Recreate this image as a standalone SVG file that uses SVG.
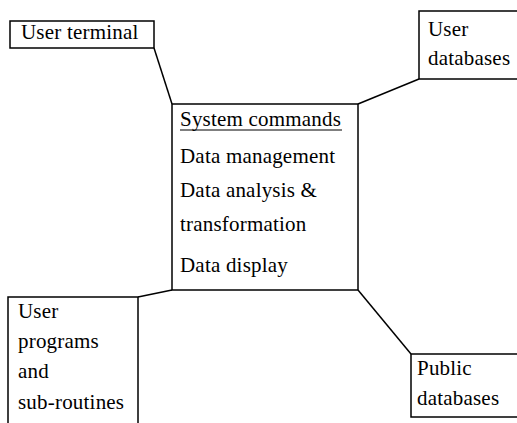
<svg xmlns="http://www.w3.org/2000/svg" width="517" height="423" viewBox="0 0 517 423">
<style>
.box{fill:#fff;stroke:#000;stroke-width:1.5}
.t{font-family:"Liberation Serif","Times New Roman",serif;font-size:21px;fill:#000;letter-spacing:0.2px}
.c{fill:none;stroke:#000;stroke-width:1.5}
</style>
<rect width="517" height="423" fill="#fff"/>
<g id="connectors">
<line class="c" x1="154" y1="48" x2="172" y2="104"/>
<line class="c" x1="358" y1="104" x2="419" y2="79"/>
<line class="c" x1="138" y1="297" x2="172" y2="290"/>
<line class="c" x1="358" y1="290" x2="411" y2="354"/>
</g>
<g id="user-terminal">
<rect class="box" x="10" y="21" width="144" height="27"/>
<text class="t" x="21" y="39">User terminal</text>
</g>
<g id="user-databases">
<rect class="box" x="419" y="11" width="100" height="68"/>
<text class="t" x="428" y="36">User</text>
<text class="t" x="428" y="65">databases</text>
</g>
<g id="system-commands">
<rect class="box" x="172" y="104" width="186" height="186"/>
<text class="t" x="180" y="126">System commands</text>
<line x1="180" y1="130" x2="342" y2="130" stroke="#000" stroke-width="1.2"/>
<text class="t" x="180" y="163">Data management</text>
<text class="t" x="180" y="197">Data analysis &amp;</text>
<text class="t" x="180" y="231">transformation</text>
<text class="t" x="180" y="272">Data display</text>
</g>
<g id="user-programs">
<path class="box" d="M8,424 V297 H138 V424"/>
<text class="t" x="18" y="318">User</text>
<text class="t" x="18" y="348">programs</text>
<text class="t" x="18" y="378">and</text>
<text class="t" x="18" y="409">sub-routines</text>
</g>
<g id="public-databases">
<rect class="box" x="411" y="354" width="108" height="63"/>
<text class="t" x="417" y="375">Public</text>
<text class="t" x="417" y="405">databases</text>
</g>
</svg>
